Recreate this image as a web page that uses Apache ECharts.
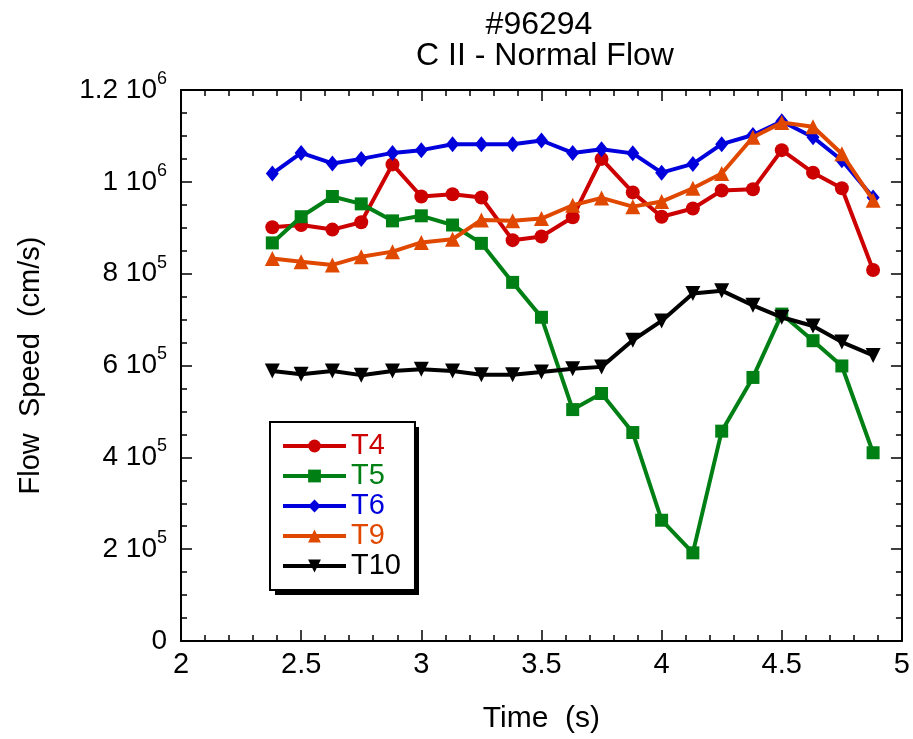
<!DOCTYPE html>
<html>
<head>
<meta charset="utf-8">
<script src="https://cdn.jsdelivr.net/npm/echarts@6/dist/echarts.min.js"></script>
<style>
html,body{margin:0;padding:0;background:#fff;}
#chart{width:913px;height:739px;}
</style>
</head>
<body>
<div id="chart"></div>
<script>
// ---- data ----
const time = [2.38, 2.5, 2.63, 2.75, 2.88, 3.0, 3.13, 3.25, 3.38, 3.5, 3.63, 3.75, 3.88, 4.0, 4.13, 4.25, 4.38, 4.5, 4.63, 4.75, 4.88];
const T4 = [901000, 906000, 896000, 912000, 1038000, 968000, 973000, 966000, 873000, 881000, 923000, 1050000, 977000, 924000, 942000, 981000, 984000, 1069000, 1020000, 986000, 808000];
const T5 = [867000, 924000, 968000, 952000, 915000, 926000, 906000, 866000, 781000, 705000, 504000, 539000, 454000, 263000, 192000, 457000, 574000, 712000, 654000, 599000, 410000];
const T6 = [1018000, 1063000, 1040000, 1050000, 1063000, 1069000, 1082000, 1082000, 1082000, 1090000, 1063000, 1071000, 1062000, 1020000, 1039000, 1082000, 1102000, 1132000, 1097000, 1047000, 966000];
const T9 = [833000, 826000, 819000, 837000, 848000, 868000, 875000, 917000, 915000, 920000, 949000, 965000, 946000, 957000, 986000, 1018000, 1097000, 1129000, 1120000, 1061000, 960000];
const T10 = [588000, 581000, 588000, 579000, 588000, 592000, 588000, 580000, 580000, 586000, 593000, 597000, 655000, 697000, 757000, 763000, 731000, 705000, 686000, 651000, 622000];

const seriesNames = ['T4', 'T5', 'T6', 'T9', 'T10'];
const yTickValues = [0, 200000, 400000, 600000, 800000, 1000000, 1200000];
const yTickMantissa = ['0', '2', '4', '6', '8', '1', '1.2'];
const yTickExponent = ['', '5', '5', '5', '5', '6', '6'];
const xTickLabels = ['2', '2.5', '3', '3.5', '4', '4.5', '5'];
const titleLines = ['#96294', 'C II - Normal Flow'];

// ---- styling ----
const FONT = 'Liberation Sans, Arial, sans-serif';
const colors = ['#cc0000', '#008014', '#0000dd', '#e04800', '#000000'];
const symbols = ['circle', 'rect', 'diamond', 'triangle', 'triangle'];
const symbolSizes = [14, 13, [13, 16], 15, 15];
const symbolRotates = [0, 0, 0, 0, 180];
const allData = [T4, T5, T6, T9, T10];

const pair = (ys) => time.map((t, i) => [t, ys[i]]);

const chart = echarts.init(document.getElementById('chart'), null, {renderer: 'canvas'});

const axisLine = {show: true, onZero: false, lineStyle: {color: '#000', width: 2}};
const xTick = {show: true, inside: true, length: 11, lineStyle: {color: '#000', width: 1.5}};
const xMinor = {show: true, splitNumber: 5, length: 6, lineStyle: {color: '#000', width: 1.5}};
const yTick = {show: true, inside: true, length: 11, lineStyle: {color: '#000', width: 1.5}};
const yMinor = {show: true, splitNumber: 4, length: 6, lineStyle: {color: '#000', width: 1.5}};

const titleStyle = {fontFamily: FONT, fontSize: 32, fontWeight: 'normal', color: '#000'};

const option = {
  animation: false,
  backgroundColor: '#fff',
  title: [
    {text: titleLines[0], left: 539, top: 9, textAlign: 'center', padding: 0, textStyle: titleStyle},
    {text: titleLines[1], left: 545, top: 40, textAlign: 'center', padding: 0, textStyle: titleStyle}
  ],
  graphic: [{
    type: 'rect', left: 275, top: 427, z: 1,
    shape: {width: 144, height: 168},
    style: {fill: '#000'}
  }],
  grid: {left: 181, right: 11, top: 90, bottom: 98, containLabel: false},
  legend: {
    orient: 'vertical',
    left: 270,
    top: 422,
    padding: [9, 14, 9, 11],
    itemGap: 0,
    itemWidth: 63,
    itemHeight: 16,
    backgroundColor: '#fff',
    borderColor: '#000',
    borderWidth: 2,
    lineStyle: {width: 4},
    textStyle: {fontFamily: FONT, fontSize: 29, lineHeight: 30},
    data: seriesNames.map((n, i) => ({name: n, textStyle: {color: colors[i]}}))
  },
  xAxis: [{
    type: 'value', position: 'bottom', min: 2, max: 5, interval: 0.5,
    axisLine: axisLine, axisTick: xTick, minorTick: xMinor, splitLine: {show: false},
    axisLabel: {
      margin: 9, fontFamily: FONT, fontSize: 29, color: '#000',
      formatter: (v) => { const i = Math.round((v - 2) / 0.5); return xTickLabels[i] || ''; }
    },
    name: 'Time  (s)', nameLocation: 'middle', nameGap: 63,
    nameTextStyle: {fontFamily: FONT, fontSize: 30, color: '#000'}
  }, {
    type: 'value', position: 'top', min: 2, max: 5, interval: 0.5,
    axisLine: axisLine, axisTick: xTick, minorTick: xMinor, splitLine: {show: false},
    axisLabel: {show: false}
  }],
  yAxis: [{
    type: 'value', position: 'left', min: 0, max: 1200000, interval: 200000,
    axisLine: axisLine, axisTick: yTick, minorTick: yMinor, splitLine: {show: false},
    axisLabel: {
      margin: 14,
      formatter: (v) => {
        const i = yTickValues.indexOf(Math.round(v));
        if (i < 0) return '';
        if (!yTickExponent[i]) return '{b|' + yTickMantissa[i] + '}';
        return '{b|' + yTickMantissa[i] + ' 10}{s|' + yTickExponent[i] + '}';
      },
      rich: {
        b: {fontFamily: FONT, fontSize: 28, color: '#000', lineHeight: 40},
        s: {fontFamily: FONT, fontSize: 18, color: '#000', verticalAlign: 'top', lineHeight: 18}
      }
    },
    name: 'Flow  Speed  (cm/s)', nameLocation: 'middle', nameGap: 136, nameRotate: 90,
    nameTextStyle: {fontFamily: FONT, fontSize: 29, color: '#000'}
  }, {
    type: 'value', position: 'right', min: 0, max: 1200000, interval: 200000,
    axisLine: axisLine, axisTick: yTick, minorTick: yMinor, splitLine: {show: false},
    axisLabel: {show: false}
  }],
  series: seriesNames.map((n, i) => ({
    name: n,
    type: 'line',
    xAxisIndex: 0,
    yAxisIndex: 0,
    data: pair(allData[i]),
    symbol: symbols[i],
    symbolSize: symbolSizes[i],
    symbolRotate: symbolRotates[i],
    showAllSymbol: true,
    lineStyle: {color: colors[i], width: 4},
    itemStyle: {color: colors[i], borderColor: colors[i], borderWidth: 0},
    emphasis: {disabled: true},
    z: 2 + i
  }))
};

chart.setOption(option);
</script>
</body>
</html>
